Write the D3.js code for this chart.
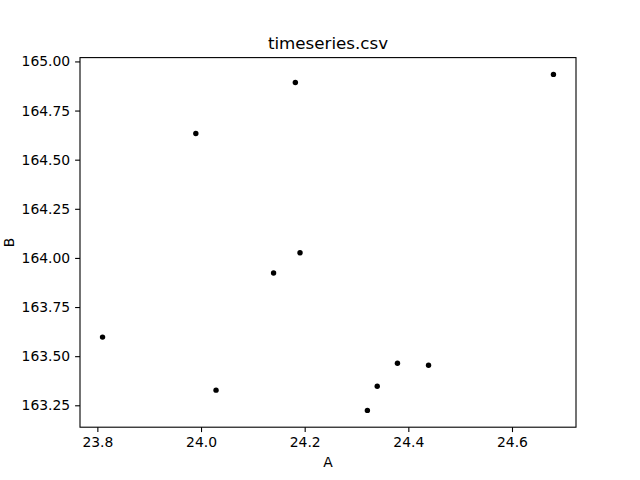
<!DOCTYPE html>
<html>
<head>
<meta charset="utf-8">
<script src="https://cdn.jsdelivr.net/npm/d3@7"></script>
<style>
  body { margin: 0; background: #fff; }
  text { font-family: "DejaVu Sans", sans-serif; fill: #000; }
</style>
</head>
<body>
<svg></svg>
<script>
// data
let colA = [23.810, 23.990, 24.029, 24.140, 24.182, 24.191, 24.321, 24.340, 24.379, 24.439, 24.680]
let colB = [163.597, 164.633, 163.327, 163.923, 164.893, 164.026, 163.224, 163.347, 163.464, 163.454, 164.934]
let xTicks = [23.8, 24.0, 24.2, 24.4, 24.6]
let yTicks = [163.25, 163.50, 163.75, 164.00, 164.25, 164.50, 164.75, 165.00]
let title = "timeseries.csv"

let width = 640
let height = 480
let plotLeft = 80, plotRight = 576, plotTop = 57.6, plotBottom = 427.2

let svg = d3.select("svg").attr("width", width).attr("height", height)

let values = colA.map((a, i) => ({ a: a, b: colB[i] }))

// matplotlib style 5% margins
let pad = (ext) => {
    let m = (ext[1] - ext[0]) * 0.05
    return [ext[0] - m, ext[1] + m]
}

let xScale = d3.scaleLinear().domain(pad(d3.extent(colA))).range([plotLeft, plotRight])
let yScale = d3.scaleLinear().domain(pad(d3.extent(colB))).range([plotBottom, plotTop])

let xAxis = d3.axisBottom(xScale)
    .tickValues(xTicks)
    .tickFormat(d3.format(".1f"))
    .tickSize(4.9)
    .tickPadding(4.9)

let yAxis = d3.axisLeft(yScale)
    .tickValues(yTicks)
    .tickFormat(d3.format(".2f"))
    .tickSize(4.9)
    .tickPadding(4.9)

let gx = svg.append("g")
    .attr("transform", "translate(0," + plotBottom + ")")
    .call(xAxis)

let gy = svg.append("g")
    .attr("transform", "translate(" + plotLeft + ",0)")
    .call(yAxis)

for (let g of [gx, gy]) {
    g.select(".domain").remove()
    g.selectAll(".tick line").attr("stroke", "#000").attr("stroke-width", 1.1)
    g.selectAll(".tick text")
        .style("font-family", "'DejaVu Sans', sans-serif")
        .style("font-size", "13.9px")
        .attr("fill", "#000")
}

// frame
svg.append("rect")
    .attr("x", plotLeft)
    .attr("y", plotTop)
    .attr("width", plotRight - plotLeft)
    .attr("height", plotBottom - plotTop)
    .attr("fill", "none")
    .attr("stroke", "#000")
    .attr("stroke-width", 1.1)

svg.selectAll("circle")
    .data(values)
    .enter()
    .append("circle")
    .attr("cx", (d) => xScale(d.a))
    .attr("cy", (d) => yScale(d.b))
    .attr("r", 2.7)
    .attr("fill", "#000")

svg.append("text")
    .attr("x", (plotLeft + plotRight) / 2)
    .attr("y", plotTop - 8.3)
    .attr("text-anchor", "middle")
    .style("font-size", "16.7px")
    .text(title)

svg.append("text")
    .attr("x", (plotLeft + plotRight) / 2)
    .attr("y", 467)
    .attr("text-anchor", "middle")
    .style("font-size", "13.9px")
    .text("A")

svg.append("text")
    .attr("transform", "translate(14," + ((plotTop + plotBottom) / 2) + ") rotate(-90)")
    .attr("text-anchor", "middle")
    .style("font-size", "13.9px")
    .text("B")
</script>
</body>
</html>
